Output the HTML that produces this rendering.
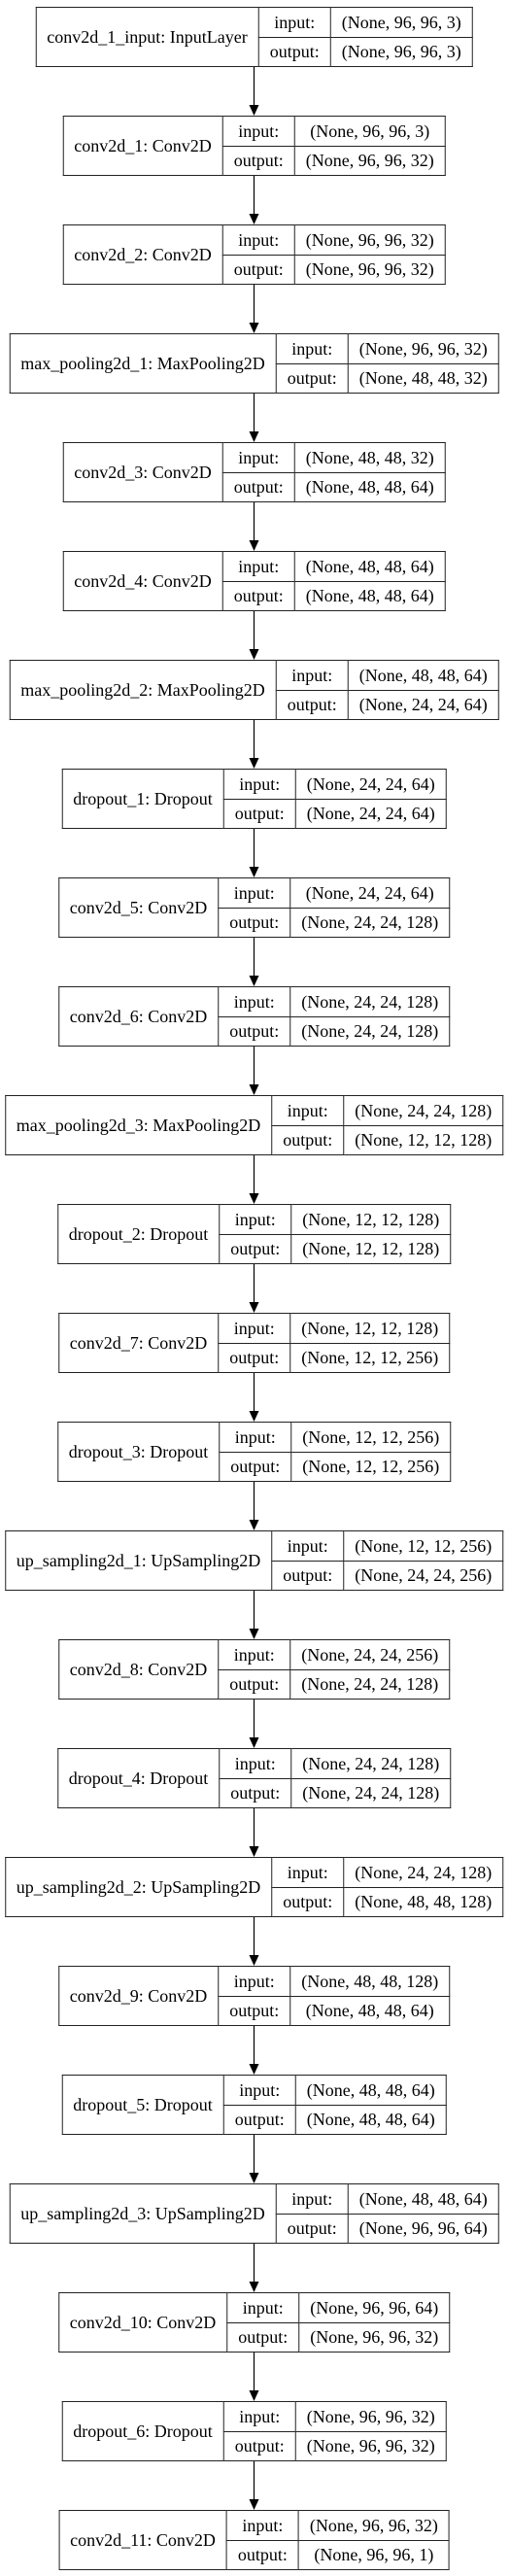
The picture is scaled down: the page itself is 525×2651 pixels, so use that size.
<!DOCTYPE html>
<html><head><meta charset="utf-8">
<style>
html,body{margin:0;padding:0;background:#fff;}
body{width:525px;height:2651px;position:relative;overflow:hidden;font-family:"Liberation Serif",serif;}
.n{position:absolute;left:261.5px;transform:translateX(-50%);}
table{border-collapse:collapse;height:62px;font-size:18px;color:#000;white-space:nowrap;}
td{border:1.3px solid #222;padding:0 11px;text-align:center;line-height:20px;height:29px;}
td.l{padding:0 11px;}
td.m{padding:0 11px;}
svg{position:absolute;left:0;top:0;}
</style></head><body>
<svg width="525" height="2651" id="s"></svg>
<div id="c"></div>
<script>
var L=[
["conv2d_1_input: InputLayer","(None, 96, 96, 3)","(None, 96, 96, 3)"],
["conv2d_1: Conv2D","(None, 96, 96, 3)","(None, 96, 96, 32)"],
["conv2d_2: Conv2D","(None, 96, 96, 32)","(None, 96, 96, 32)"],
["max_pooling2d_1: MaxPooling2D","(None, 96, 96, 32)","(None, 48, 48, 32)"],
["conv2d_3: Conv2D","(None, 48, 48, 32)","(None, 48, 48, 64)"],
["conv2d_4: Conv2D","(None, 48, 48, 64)","(None, 48, 48, 64)"],
["max_pooling2d_2: MaxPooling2D","(None, 48, 48, 64)","(None, 24, 24, 64)"],
["dropout_1: Dropout","(None, 24, 24, 64)","(None, 24, 24, 64)"],
["conv2d_5: Conv2D","(None, 24, 24, 64)","(None, 24, 24, 128)"],
["conv2d_6: Conv2D","(None, 24, 24, 128)","(None, 24, 24, 128)"],
["max_pooling2d_3: MaxPooling2D","(None, 24, 24, 128)","(None, 12, 12, 128)"],
["dropout_2: Dropout","(None, 12, 12, 128)","(None, 12, 12, 128)"],
["conv2d_7: Conv2D","(None, 12, 12, 128)","(None, 12, 12, 256)"],
["dropout_3: Dropout","(None, 12, 12, 256)","(None, 12, 12, 256)"],
["up_sampling2d_1: UpSampling2D","(None, 12, 12, 256)","(None, 24, 24, 256)"],
["conv2d_8: Conv2D","(None, 24, 24, 256)","(None, 24, 24, 128)"],
["dropout_4: Dropout","(None, 24, 24, 128)","(None, 24, 24, 128)"],
["up_sampling2d_2: UpSampling2D","(None, 24, 24, 128)","(None, 48, 48, 128)"],
["conv2d_9: Conv2D","(None, 48, 48, 128)","(None, 48, 48, 64)"],
["dropout_5: Dropout","(None, 48, 48, 64)","(None, 48, 48, 64)"],
["up_sampling2d_3: UpSampling2D","(None, 48, 48, 64)","(None, 96, 96, 64)"],
["conv2d_10: Conv2D","(None, 96, 96, 64)","(None, 96, 96, 32)"],
["dropout_6: Dropout","(None, 96, 96, 32)","(None, 96, 96, 32)"],
["conv2d_11: Conv2D","(None, 96, 96, 32)","(None, 96, 96, 1)"]];
var h="",s="";
for(var i=0;i<L.length;i++){
 var y=7+112*i;
 h+='<div class="n" style="top:'+y+'px"><table><tr><td class="l" rowspan="2">'+L[i][0]+'</td><td class="m">input:</td><td>'+L[i][1]+'</td></tr><tr><td class="m">output:</td><td>'+L[i][2]+'</td></tr></table></div>';
 if(i<L.length-1){
  var a=y+62,b=y+112;
  s+='<line x1="261.5" y1="'+a+'" x2="261.5" y2="'+(b-10)+'" stroke="#000" stroke-width="1.2"/>';
  s+='<polygon points="256.5,'+(b-11)+' 266.5,'+(b-11)+' 261.5,'+b+'" fill="#000"/>';
 }
}
document.getElementById("c").innerHTML=h;
document.getElementById("s").innerHTML=s;
</script>
</body></html>
